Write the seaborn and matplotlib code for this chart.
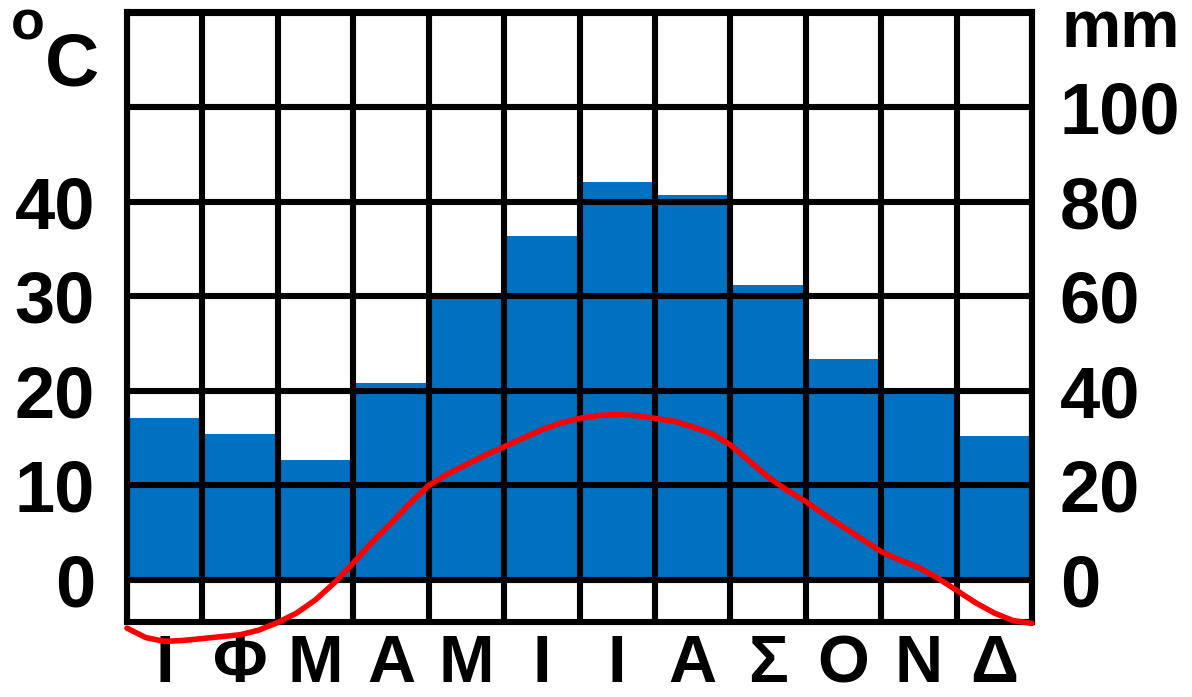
import numpy as np
import matplotlib
matplotlib.use("Agg")
import matplotlib.pyplot as plt
import seaborn as sns

# monthly precipitation (mm)
months = ['Ι', 'Φ', 'Μ', 'Α', 'Μ', 'Ι', 'Ι', 'Α', 'Σ', 'Ο', 'Ν', 'Δ']
month_pos = [0.5, 1.5, 2.5, 3.5, 4.5, 5.5, 6.5, 7.5, 8.5, 9.5, 10.5, 11.5]
precip = [34.3, 30.9, 25.4, 41.7, 59.9, 72.8, 84.2, 81.5, 62.4, 46.8, 40.6, 30.5]

# temperature curve (°C), read every quarter month along the red line
temp_x = [0, 0.25, 0.5, 0.75, 1, 1.25, 1.5, 1.75, 2, 2.25, 2.5, 2.75,
          3, 3.25, 3.5, 3.75, 4, 4.25, 4.5, 4.75, 5, 5.25, 5.5, 5.75,
          6, 6.25, 6.5, 6.75, 7, 7.25, 7.5, 7.75, 8, 8.25, 8.5, 8.75,
          9, 9.25, 9.5, 9.75, 10, 10.25, 10.5, 10.75, 11, 11.25, 11.5, 11.75, 12]
temp_c = [-5.1, -6.1, -6.5, -6.4, -6.2, -6.0, -5.8, -5.3, -4.5, -3.5, -2.1, -0.3,
          1.8, 4.0, 6.0, 8.1, 10.0, 11.2, 12.2, 13.2, 14.1, 15.0, 15.9, 16.6,
          17.1, 17.4, 17.5, 17.4, 17.1, 16.8, 16.2, 15.5, 14.3, 12.6, 10.9, 9.5,
          8.3, 6.9, 5.6, 4.3, 3.0, 2.1, 1.3, 0.2, -1.1, -2.4, -3.5, -4.3, -4.6]

mm_ticks = [0, 20, 40, 60, 80, 100, 120]
mm_labels = ['0', '20', '40', '60', '80', '100', '']
c_ticks = [0, 10, 20, 30, 40]

W, H = 1192, 697
BLUE = '#0070C0'
LW = 4.4
FS = 52

sns.set_theme(style='white')
plt.rcParams['font.family'] = ['Liberation Sans', 'DejaVu Sans']
plt.rcParams['font.weight'] = 'bold'
plt.rcParams['text.color'] = 'black'
plt.rcParams['xtick.color'] = 'black'
plt.rcParams['ytick.color'] = 'black'

fig = plt.figure(figsize=(W / 100, H / 100), dpi=100)
ax = fig.add_axes([127 / W, 75 / H, (1032 - 127) / W, (622 - 12) / H])

# bars on the mm axis
sns.barplot(x=month_pos, y=precip, native_scale=True, width=1, color=BLUE,
            saturation=1, linewidth=0, ax=ax)
ax.set_xlim(0, 12)
ax.set_ylim(-8.9, 120.2)
ax.set_xlabel('')
ax.set_ylabel('')

# temperature on the °C axis
ax2 = ax.twinx()
sns.lineplot(x=temp_x, y=temp_c, color='red', linewidth=4.0, ax=ax2,
             clip_on=False, zorder=5)
ax2.set_ylim(-4.45, 60.1)
ax2.set_yticks(c_ticks)
ax2.set_yticklabels([str(v) for v in c_ticks], fontsize=FS, fontweight='bold')
ax2.yaxis.tick_left()
ax2.tick_params(axis='y', length=0, pad=23)
ax2.grid(False)
ax2.set_ylabel('')
for s in ax2.spines.values():
    s.set_visible(False)

ax.set_xticks(range(13))
ax.set_xticklabels([''] * 13)
ax.set_xticks(month_pos, minor=True)
ax.set_xticklabels(months, minor=True, fontsize=48, fontweight='bold')
ax.set_yticks(mm_ticks)
ax.set_yticklabels(mm_labels, fontsize=FS, fontweight='bold')
ax.yaxis.tick_right()
ax.tick_params(axis='both', which='both', length=0)
ax.tick_params(axis='x', which='minor', pad=9)
ax.tick_params(axis='y', pad=20)
ax.grid(True, which='major', color='black', linewidth=LW)
ax.set_axisbelow(False)
for s in ax.spines.values():
    s.set_color('black')
    s.set_linewidth(LW)
    s.set_visible(True)

# axis unit labels
fig.text(28 / W, 1 - 40 / H, 'o', fontsize=40, fontweight='bold', ha='center', va='baseline')
fig.text(72 / W, 1 - 85 / H, 'C', fontsize=54, fontweight='bold', ha='center', va='baseline')
fig.text(1061 / W, 1 - 47 / H, 'mm', fontsize=48, fontweight='bold', ha='left', va='baseline')

plt.savefig('out.png', dpi=100)
